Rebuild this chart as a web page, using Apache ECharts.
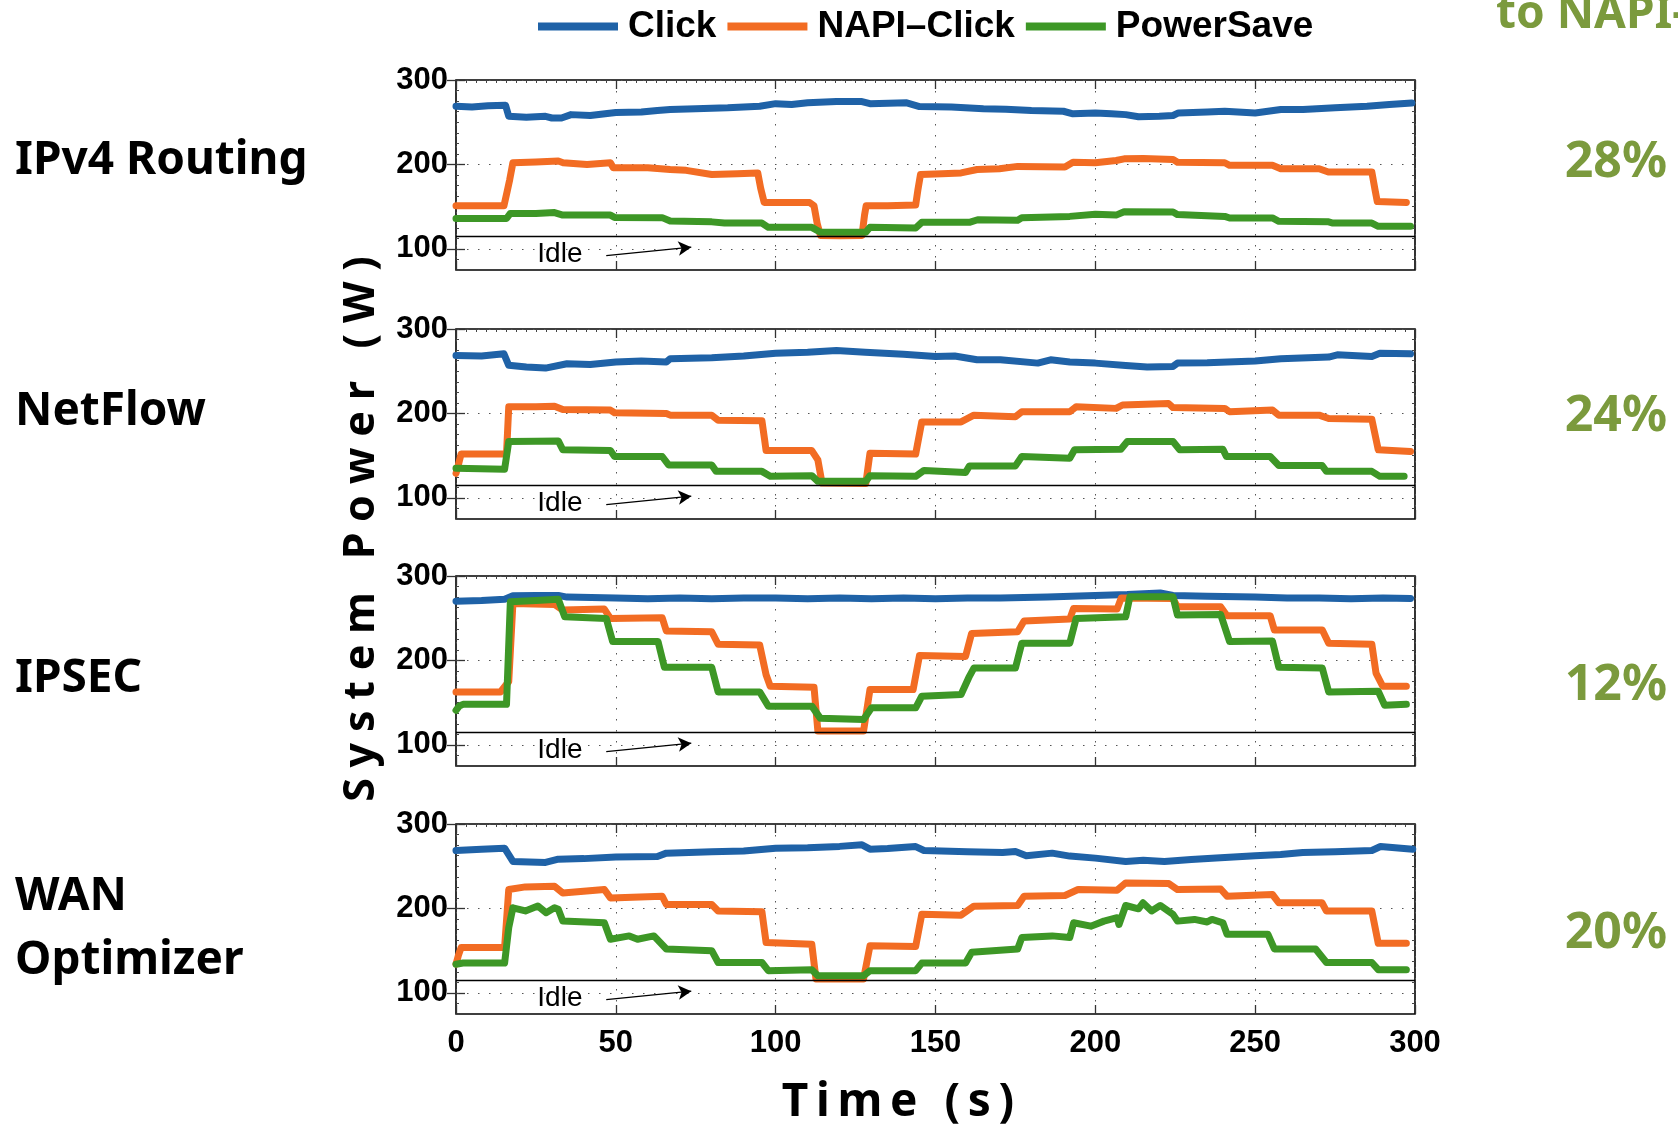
<!DOCTYPE html>
<html>
<head>
<meta charset="utf-8">
<script src="https://cdn.jsdelivr.net/npm/echarts@6/dist/echarts.min.js"></script>
<style>
  html, body { margin: 0; padding: 0; background: #ffffff; }
  #chart { width: 1678px; height: 1126px; }
</style>
</head>
<body>
<div id="chart"></div>
<script>
// ---- Data: system power (W) over time (s) for each workload ----
const timeTicks = [0, 50, 100, 150, 200, 250, 300];
const powerTicks = [100, 200, 300];
const idlePower = 114.5;
const workloads = ['IPv4 Routing', 'NetFlow', 'IPSEC', 'WAN', 'Optimizer'];
const savings = ['28%', '24%', '12%', '20%'];
const seriesNames = ['Click', 'NAPI–Click', 'PowerSave'];

const ipv4Click = [[0,269],[5,268],[10,269.5],[15.5,270],[16.5,257],[22,256],[28,257],[30,255],[33,255],[36,259],[42,258],[50,261.6],[58,262],[63,264],[67,265],[75,266],[85,267],[95,269],[100,272],[105,271],[110,273],[119,274.5],[127,274.5],[129.5,272],[141,273],[145,268.6],[155,268],[165,266],[172,265.5],[180,264],[190,263],[193,260],[200,261],[205,260],[209.5,259],[213.5,256.4],[220,257],[224.3,258],[226,261],[235,262],[240.5,263],[250,261],[258,265],[265,265],[275,267],[285,269],[292,271],[299,272.8]];
const ipv4Napi = [[0,151],[15,151],[16,168],[16.8,182],[17.8,202],[25,203],[32,204],[33.5,202],[41,200],[48.3,202],[49.2,196],[60,196],[67,194],[72,193],[80,188],[88,189],[94.4,190],[95.3,172],[96.4,155],[104,155],[110.6,155],[112,151],[113,130],[114,116],[120,115.5],[127,116],[127.8,140],[128.3,151],[135,151],[143.8,152],[144.5,170],[145.3,188],[152,189],[158,190],[163,194],[170,195],[175.7,197.7],[190.5,197],[193,202.6],[200,202],[206.5,204.7],[209,206.6],[215,207],[224.3,206],[225.7,202.6],[240.5,202],[242,199],[255.4,199],[258,195],[270,195],[272.9,191],[286.5,191],[287.5,170],[288.2,156],[297.3,155]];
const ipv4Save = [[0,136],[15.8,136],[17,142],[25,142],[30.8,143],[33.4,140],[48.3,140],[49.6,137.3],[64.5,137],[67,133],[80,132],[84,130.6],[95.7,130.6],[97.7,125.5],[111.3,125.5],[114,119.6],[128.2,119.6],[129.5,125.5],[143.8,124.7],[145.7,131.4],[160.6,131.4],[163.2,134.5],[175.7,134],[177,137],[192,138.5],[200,141],[206.5,140],[209,144],[224.3,143.6],[225.7,140.6],[240.5,138.5],[242,136.6],[255.4,136.6],[257.4,132.7],[273,132],[274.3,130.6],[286.5,130.6],[288.5,126.8],[298.6,126.8]];

const netflowClick = [[0,268.6],[8,268],[15,270.6],[16.5,257],[22,255],[28,253.7],[34.7,258.8],[42,258],[50,260.8],[58,262],[65.8,261],[67,264.7],[80,266],[90,268],[100,271.4],[110,272.5],[119,274.5],[128,272.5],[140,270],[150,267.5],[156,268],[163,263.5],[170.3,263.5],[182,259.6],[186,263.5],[192,261],[200,259.6],[209.5,256.9],[216.2,255],[224.3,255.7],[225.7,259.6],[235,260],[250,262],[258,264.7],[273,266.7],[275.7,269.4],[286.5,267.5],[289,271.4],[298.6,270.6]];
const netflowNapi = [[0,129],[0.8,140],[1.6,152],[15.8,152],[16.5,207.8],[25,208],[30.8,208.6],[33.4,204.7],[48.3,204],[49.6,200.8],[65.8,200],[67,198],[80,198],[82,192],[95.7,191.4],[96.5,170],[97,156],[111.3,156],[113.2,145],[114.5,117.6],[128.2,117],[129.5,153],[143.8,152],[145.7,190],[158,190],[162,198],[175,196],[177,202],[192,202],[194,208],[206.5,206],[208.5,210],[222.9,211.8],[224.3,207],[240.5,206],[242,202],[255.4,204],[257.4,198],[270,198],[273,194],[286.5,193],[288.5,157],[298.6,155]];
const netflowSave = [[0,135],[15.2,134],[16.5,166.7],[25,167],[32,167.5],[33.4,157],[48.3,156],[49.6,149],[64.5,149],[66.5,139],[80,139],[81.4,131.4],[95.7,131.4],[98.3,125.5],[111.3,126.3],[113.2,119.6],[128.2,119.6],[129.5,126.3],[143.8,125.5],[146.4,132.5],[159.4,130],[160.6,137.9],[175,137.9],[177,149],[192,147],[193.5,157],[208,157.6],[210,166.7],[224.3,166.7],[226.4,157],[239.9,157.6],[241,149],[254.7,149],[257.4,138.4],[270.9,138.4],[272.3,131.4],[286.5,131.4],[289,125.5],[296.6,125.5]];

const ipsecClick = [[0,270.2],[8,271],[15.2,272.5],[17.8,276.5],[25,277],[32,277],[34.7,275],[50,274],[60,273],[70,274],[80,273],[90,274],[100,274],[110,273],[120,274],[130,273],[140,274],[150,273],[160,274],[170.3,274],[185,275],[200,277],[210,278],[220.3,280],[224.3,277],[235,276],[250,275],[260,274],[270,274],[280,273],[290,274],[298.6,273.3]];
const ipsecNapi = [[0,162.7],[13.9,162.7],[16.5,175],[17.8,267.5],[30.8,266.3],[33.4,259.6],[46.4,260.8],[48.3,249.8],[64.5,250.6],[65.8,234.9],[80,234],[82,219.2],[95,218.4],[97,183],[98.3,169.4],[112,168.2],[113.2,116.5],[127.5,116.5],[129.5,165.5],[143,165.5],[145,205.9],[159.4,204.7],[161.3,232],[175.7,234],[177.7,246.7],[192,249],[193.2,261.6],[206.8,260.8],[208.1,274],[224.3,273.3],[225.7,263.5],[239.2,263.5],[241.2,253],[254.7,253],[256,236],[271,236],[273,220.4],[286.5,219.2],[287.8,185],[289.9,169.4],[297.3,169.4]];
const ipsecSave = [[0,141],[1,146],[2.2,148],[15.8,148],[17,269.4],[25,271],[32,272.5],[34,251.8],[47,249.8],[49,222.4],[63.2,222.4],[65.2,191.8],[80,191.8],[82,162.7],[95,162.7],[97.7,145.9],[111.3,145.9],[114,131.4],[127.5,130.2],[130,143.9],[143.8,143.9],[145.7,157.6],[158,159.6],[160.6,181.2],[162,191],[175,191],[177,220.4],[192,220.4],[194,249.8],[209.5,251.8],[210.8,275.3],[224.3,275.3],[225.7,253.7],[239.2,254.5],[242,222.4],[255.4,223],[257.4,191.8],[271,191],[273,162.7],[288.5,163.5],[290.5,147],[297.3,148]];

const wanClick = [[0,268.6],[8,270],[15.2,271.4],[17.8,255.7],[28,254.5],[32,258.4],[40,259],[50,260.8],[63,261.6],[65.8,265.5],[80,267],[90,268],[100,271.4],[110,272],[120,273.5],[127,275.3],[129.5,270.2],[135,271],[143.8,273.3],[146.4,268.6],[160,267],[171,266.3],[175,267.5],[178.4,262.4],[186.5,265.5],[192,262],[200,259.6],[209.5,255.7],[215,257],[221.6,255.7],[230,258],[237.8,259.6],[250,262.4],[258,264],[264.9,266.3],[275,267],[286.5,268.6],[289.2,273.3],[299.3,270.2]];
const wanNapi = [[0,134],[0.8,145],[1.6,153.7],[15.2,153.7],[16.5,222.4],[21.7,225.5],[30.8,226.3],[33.4,218.4],[46.4,222.4],[48.3,212.5],[64.5,214.5],[65.8,204.7],[80,204.7],[82,196.9],[95.7,196],[97,159.6],[111.3,157.6],[112.6,116.5],[127.5,116.5],[129.5,155.7],[143.8,155],[145.7,193],[158,192],[162,202.7],[175.7,203.5],[177.7,214.5],[190.5,215.3],[194.6,222.4],[206.8,221.6],[209.5,230.2],[223,229.4],[225.7,222.4],[239.2,223],[241.2,214.5],[255.4,216.5],[257.4,206.7],[270.9,206.7],[272.3,196.9],[286.5,196.9],[288.5,158.8],[297.3,158.8]];
const wanSave = [[0,134],[2.2,135.3],[15.2,135.3],[16.5,177.3],[17.8,200.8],[21.7,197],[25.6,203],[28.2,195],[30.8,200.8],[32,199],[33.4,185],[46.4,183],[48.3,163.5],[54.2,167.5],[56.8,163.5],[61.9,167.5],[65.8,152],[80,150],[82,136],[95.7,136],[97.7,126.3],[111.3,127.5],[113.2,120.4],[127.5,120.4],[129.5,126.3],[143.8,126.3],[145.7,135.3],[159.4,135.3],[161.3,148],[175.7,152],[177,165.5],[186.5,167.5],[192,165.5],[193.2,183],[198.6,179],[202.7,185],[206.8,189],[207.4,181],[209.5,203.5],[213.5,199.6],[214.9,206.7],[217.6,197],[220.3,203.5],[224.3,193],[225.7,185],[231,187],[235,184],[236.5,187],[239.9,183],[241.2,169.4],[254,169.4],[256,152],[268.9,152],[272.3,136],[286.5,136],[288.5,127.5],[297.3,127.5]];

// "Idle" annotation: label position and arrow end points (time, watts)
const idleLabelAt = [32.5, 94];
const idleArrow = [[47, 92], [73.6, 102]];

const panelData = [
  [ipv4Click, ipv4Napi, ipv4Save],
  [netflowClick, netflowNapi, netflowSave],
  [ipsecClick, ipsecNapi, ipsecSave],
  [wanClick, wanNapi, wanSave]
];

// ---- Layout & style ----
const colors = ['#1f62a7', '#f26c23', '#3d9726'];
const accent = '#7b9a3d';
const panelTops = [80, 329, 576, 824];
const panelHeight = 190;
const plotLeft = 456, plotRight = 263;
const dotted = { color: '#555', width: 1, type: [1.5, 9.5] };
const majorTick = { show: true, inside: true, length: 9, lineStyle: { color: '#333', width: 1.3 } };
const minorTickStyle = { show: true, inside: true, length: 3, lineStyle: { color: '#444', width: 1 } };
const tickLabelStyle = { color: '#000', fontFamily: '"Liberation Sans", Arial, sans-serif', fontWeight: 'bold', fontSize: 31 };

const chart = echarts.init(document.getElementById('chart'), null, { renderer: 'canvas' });

const grids = [], xAxes = [], yAxes = [], series = [];
const n = panelTops.length;
panelTops.forEach((top) => {
  grids.push({ left: plotLeft, right: plotRight, top: top, height: panelHeight,
    show: true, borderColor: '#000', borderWidth: 1.6, backgroundColor: 'transparent' });
});
// bottom x axes (0..n-1)
panelTops.forEach((_, p) => {
  xAxes.push({
    type: 'value', gridIndex: p, min: timeTicks[0], max: timeTicks[timeTicks.length - 1], interval: 50,
    axisLine: { show: false }, axisTick: majorTick,
    axisLabel: Object.assign({ show: p === n - 1, margin: 14 }, tickLabelStyle),
    splitLine: { show: true, lineStyle: dotted }
  });
});
// top x axes (n..2n-1): inward major + minor ticks
panelTops.forEach((_, p) => {
  xAxes.push({
    type: 'value', gridIndex: p, position: 'top', min: 0, max: 300, interval: 50,
    axisLine: { show: false }, axisTick: majorTick,
    minorTick: Object.assign({ splitNumber: 16 }, minorTickStyle),
    axisLabel: { show: false }, splitLine: { show: false }
  });
});
// left y axes (0..n-1)
panelTops.forEach((_, p) => {
  yAxes.push({
    type: 'value', gridIndex: p, min: 75, max: 300,
    axisLine: { show: false },
    axisTick: Object.assign({ customValues: powerTicks }, majorTick),
    axisLabel: Object.assign({ show: true, customValues: powerTicks, margin: 8 }, tickLabelStyle),
    splitLine: { show: true, lineStyle: dotted }
  });
});
// right y axes (n..2n-1): inward major ticks
panelTops.forEach((_, p) => {
  yAxes.push({
    type: 'value', gridIndex: p, position: 'right', min: 75, max: 300,
    axisLine: { show: false },
    axisTick: Object.assign({ customValues: powerTicks }, majorTick),
    axisLabel: { show: false }, splitLine: { show: false }
  });
});
// minor tick axes on both sides (2n..4n-1)
['left', 'right'].forEach((side) => {
  panelTops.forEach((_, p) => {
    yAxes.push({
      type: 'value', gridIndex: p, position: side, min: 75, max: 300, interval: 12.5,
      axisLine: { show: false }, axisTick: minorTickStyle,
      axisLabel: { show: false }, splitLine: { show: false }
    });
  });
});

panelData.forEach((lines, p) => {
  // idle baseline, "Idle" label and arrow
  series.push({
    type: 'line', name: 'idle-' + p, xAxisIndex: p, yAxisIndex: p, data: [], z: 1,
    silent: true, animation: false,
    markLine: {
      silent: true, animation: false, symbol: 'none', label: { show: false },
      data: [
        { yAxis: idlePower, lineStyle: { color: '#000', width: 1.3, type: 'solid' } },
        [
          { coord: idleArrow[0], symbol: 'none', lineStyle: { color: '#000', width: 1.3, type: 'solid' } },
          { coord: idleArrow[1], symbol: 'arrow', symbolSize: [11, 13] }
        ]
      ]
    },
    markPoint: {
      silent: true, animation: false, symbol: 'circle', symbolSize: 0,
      label: { show: true, formatter: 'Idle', color: '#000', fontSize: 28,
        fontFamily: '"Liberation Sans", Arial, sans-serif', position: 'inside' },
      data: [{ coord: idleLabelAt }]
    }
  });
  lines.forEach((data, k) => {
    series.push({
      type: 'line', name: seriesNames[k], xAxisIndex: p, yAxisIndex: p, data: data, z: 3,
      showSymbol: false, symbol: 'none', animation: false,
      lineStyle: { color: colors[k], width: 7, join: 'round', cap: 'round' },
      itemStyle: { color: colors[k] }
    });
  });
});

const labelFont = 'bold 46px "Noto Sans", "Open Sans", sans-serif';
const graphics = [];
const labelCenters = [161, 412, 679, 897, 961];
workloads.forEach((w, i) => {
  graphics.push({ type: 'text', x: 15, y: labelCenters[i],
    style: { text: w, font: labelFont, fill: '#000', textVerticalAlign: 'middle' } });
});
const savingCenters = [163, 417, 686, 934];
savings.forEach((s, i) => {
  graphics.push({ type: 'text', x: 1667, y: savingCenters[i],
    style: { text: s, font: 'bold 50px "Noto Sans", "Open Sans", sans-serif', fill: accent,
      textAlign: 'right', textVerticalAlign: 'middle' } });
});
graphics.push({ type: 'text', x: 1496, y: 15,
  style: { text: 'to NAPI-Click', font: 'bold 46px "Noto Sans", "Open Sans", sans-serif', fill: accent,
    textVerticalAlign: 'middle' } });
// axis titles with wide letter spacing
graphics.push({ type: 'text', x: 362, y: 529, rotation: Math.PI / 2,
  style: { text: 'System Power (W)'.split('').join('\u2005'), font: 'bold 43px "Noto Sans", "Open Sans", sans-serif',
    fill: '#000', textAlign: 'center', textVerticalAlign: 'middle' } });
graphics.push({ type: 'text', x: 898, y: 1103,
  style: { text: 'Time (s)'.split('').join('\u2009'), font: 'bold 46px "Noto Sans", "Open Sans", sans-serif',
    fill: '#000', textAlign: 'center', textVerticalAlign: 'middle' } });

chart.setOption({
  backgroundColor: '#ffffff',
  animation: false,
  legend: {
    data: seriesNames, left: 533, top: 3, icon: 'rect', itemWidth: 80, itemHeight: 8, itemGap: 11,
    textStyle: { color: '#000', fontFamily: '"Liberation Sans", Arial, sans-serif', fontWeight: 'bold', fontSize: 37,
      padding: [0, 0, 0, 5] }
  },
  grid: grids,
  xAxis: xAxes,
  yAxis: yAxes,
  series: series,
  graphic: graphics
});
</script>
</body>
</html>
